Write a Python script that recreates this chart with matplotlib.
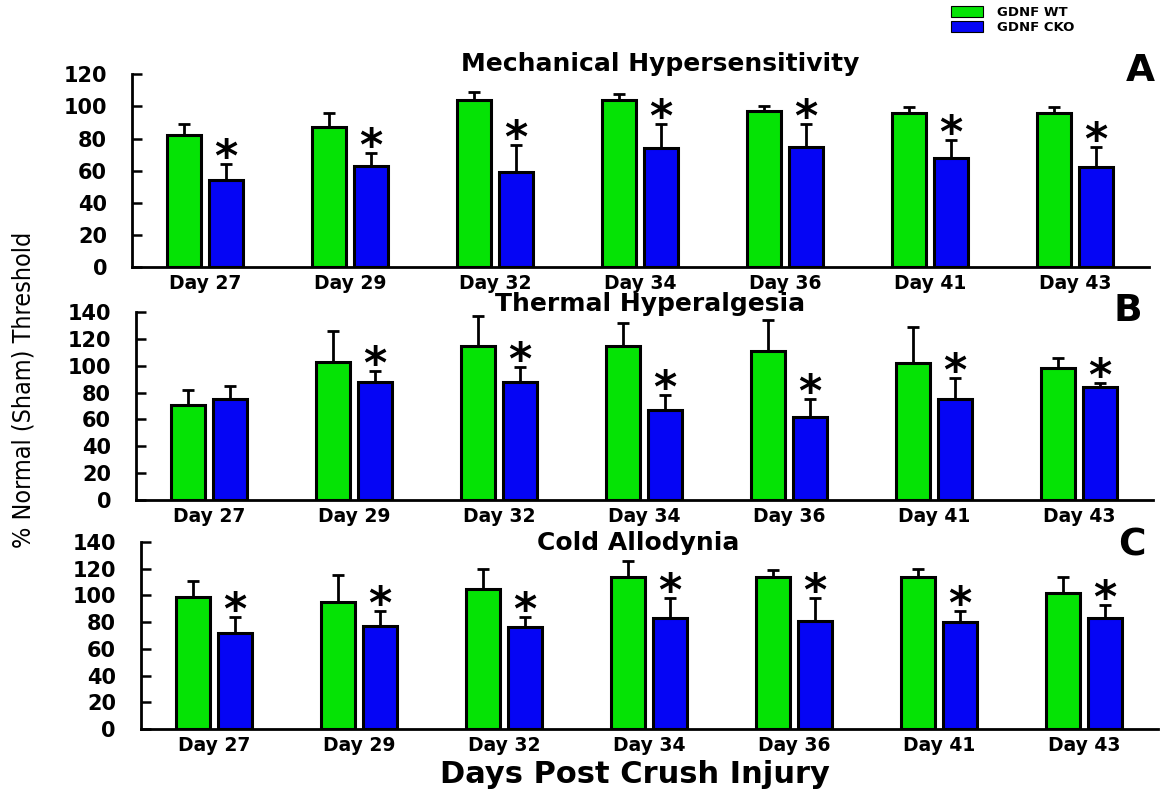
import matplotlib
matplotlib.use('Agg')
import matplotlib.pyplot as plt
from matplotlib.patches import Patch
import numpy as np

days = ['Day 27', 'Day 29', 'Day 32', 'Day 34', 'Day 36', 'Day 41', 'Day 43']

# % of normal (sham) threshold, mean and upper SEM
mech_wt = [82, 87, 104, 104, 97, 96, 96]
mech_wt_sem = [7, 9, 5, 4, 3, 3.5, 3.5]
mech_cko = [54, 63, 59, 74, 75, 68, 62]
mech_cko_sem = [10, 8, 17, 15, 14, 11, 13]
mech_sig = [1, 1, 1, 1, 1, 1, 1]

thermal_wt = [71, 103, 115, 115, 111, 102, 98]
thermal_wt_sem = [11, 23, 22, 17, 23, 27, 8]
thermal_cko = [75, 88, 88, 67, 62, 75, 84]
thermal_cko_sem = [10, 8, 11, 11, 13, 16, 3]
thermal_sig = [0, 1, 1, 1, 1, 1, 1]

cold_wt = [99, 95, 105, 114, 114, 114, 102]
cold_wt_sem = [12, 20, 15, 12, 5, 6, 12]
cold_cko = [72, 77, 76, 83, 81, 80, 83]
cold_cko_sem = [12, 11, 8, 15, 17, 8, 10]
cold_sig = [1, 1, 1, 1, 1, 1, 1]

green = '#05E305'
blue = '#0505F5'

plt.rcParams['font.family'] = 'DejaVu Sans'
plt.rcParams['font.weight'] = 'bold'

W, H = 1163, 792
fig = plt.figure(figsize=(W / 100, H / 100), dpi=100)


def draw_panel(rect, wt, wt_sem, cko, cko_sem, sig, ymax):
    ax = fig.add_axes(rect)
    x = np.arange(len(days))
    zero = np.zeros(len(days))
    ax.bar(x - 0.145, wt, 0.24, color=green, edgecolor='black', linewidth=2.2, zorder=2)
    ax.bar(x + 0.145, cko, 0.24, color=blue, edgecolor='black', linewidth=2.2, zorder=2)
    ax.errorbar(x - 0.145, wt, yerr=[zero, wt_sem], fmt='none', ecolor='black',
                elinewidth=2, capsize=4, capthick=2, zorder=3)
    ax.errorbar(x + 0.145, cko, yerr=[zero, cko_sem], fmt='none', ecolor='black',
                elinewidth=2, capsize=4, capthick=2, zorder=3)
    for i in range(len(days)):
        if sig[i]:
            ax.annotate('*', (x[i] + 0.145, cko[i] + cko_sem[i]), xytext=(0, -5),
                        textcoords='offset points', ha='center', va='baseline',
                        fontsize=32, fontweight='bold')
    ax.set_xlim(-0.503, 6.51)
    ax.set_ylim(0, ymax)
    ax.set_yticks(range(0, ymax + 1, 20))
    ax.set_xticks(x)
    ax.set_xticklabels(days)
    for s in ['top', 'right']:
        ax.spines[s].set_visible(False)
    for s in ['left', 'bottom']:
        ax.spines[s].set_linewidth(2)
    ax.tick_params(axis='y', direction='in', length=7, width=1.8, pad=18, labelsize=15)
    ax.tick_params(axis='x', length=0, pad=5, labelsize=13.5)
    return ax


draw_panel([132 / W, 1 - 267 / H, 1017 / W, 192.7 / H],
           mech_wt, mech_wt_sem, mech_cko, mech_cko_sem, mech_sig, 120)
draw_panel([136 / W, 1 - 500 / H, 1017 / W, 188 / H],
           thermal_wt, thermal_wt_sem, thermal_cko, thermal_cko_sem, thermal_sig, 140)
draw_panel([141 / W, 1 - 729 / H, 1017 / W, 187 / H],
           cold_wt, cold_wt_sem, cold_cko, cold_cko_sem, cold_sig, 140)

# panel titles and letters
fig.text(660 / W, 1 - 71 / H, 'Mechanical Hypersensitivity', ha='center', va='baseline', fontsize=18)
fig.text(650 / W, 1 - 311 / H, 'Thermal Hyperalgesia', ha='center', va='baseline', fontsize=18)
fig.text(638 / W, 1 - 550 / H, 'Cold Allodynia', ha='center', va='baseline', fontsize=18)
fig.text(1140 / W, 1 - 81 / H, 'A', ha='center', va='baseline', fontsize=27)
fig.text(1128 / W, 1 - 321 / H, 'B', ha='center', va='baseline', fontsize=27)
fig.text(1132 / W, 1 - 555 / H, 'C', ha='center', va='baseline', fontsize=27)

fig.text(635 / W, 1 - 783 / H, 'Days Post Crush Injury', ha='center', va='baseline', fontsize=22)
fig.text(24 / W, 1 - 390 / H, '% Normal (Sham) Threshold', rotation=90, ha='center', va='center',
         fontsize=18, fontweight='normal', fontstretch='condensed',
         family=['Liberation Sans Narrow', 'DejaVu Sans'])

handles = [Patch(facecolor=green, edgecolor='black', linewidth=0.8),
           Patch(facecolor=blue, edgecolor='black', linewidth=0.8)]
fig.legend(handles, ['GDNF WT', 'GDNF CKO'], loc='upper left',
           bbox_to_anchor=(951 / W, 1 - 6 / H), frameon=False,
           prop={'weight': 'bold', 'size': 9.5}, handlelength=2.4, handleheight=0.9,
           labelspacing=0.15, handletextpad=1.1, borderaxespad=0, borderpad=0)

fig.savefig('out.png', dpi=100)
